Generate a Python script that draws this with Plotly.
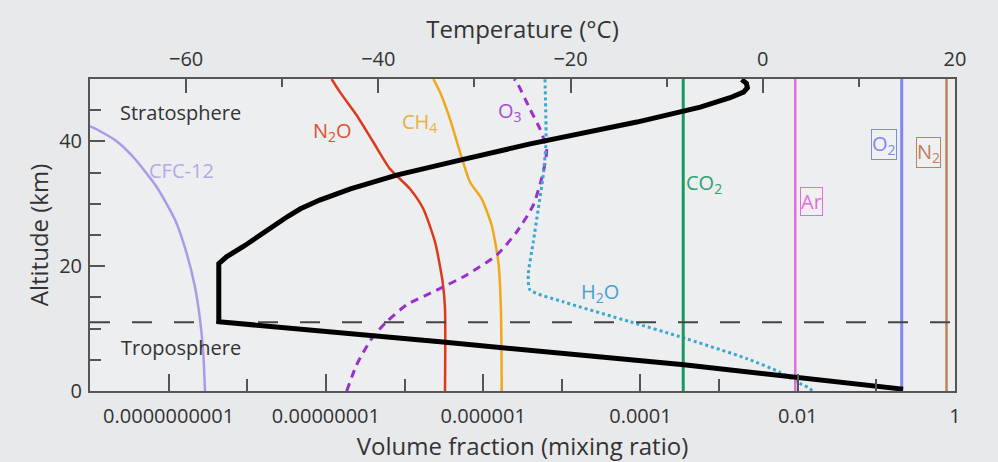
import plotly.graph_objects as go

# altitude (km) and temperature (deg C) of the black profile
alt_temp = [0.3, 4.2, 7.8, 11.1, 20.4, 21.5, 23.2, 25.0, 26.6, 28.0, 29.2, 30.6, 32.4, 34.6, 37.0, 39.6, 43.1, 45.5, 47.0, 47.9, 48.6, 49.3, 49.9]
temp_c = [14.6, -8.2, -33.0, -56.6, -56.6, -55.8, -54.0, -52.3, -50.9, -49.4, -48.1, -46.1, -42.9, -38.1, -31.5, -24.2, -13.1, -6.5, -3.4, -2.0, -1.6, -1.7, -2.2]

# volume fractions vs altitude
alt_cfc = [0, 6, 11.4, 16.7, 22.0, 27.4, 32.7, 37.5, 40.0, 41.3, 42.2, 42.8]
cfc12 = [2.90e-10, 2.76e-10, 2.51e-10, 2.16e-10, 1.70e-10, 1.21e-10, 7.05e-11, 3.55e-11, 2.2e-11, 1.5e-11, 1.1e-11, 8.0e-12]

alt_n2o = [0, 13.2, 17.5, 23.9, 29.2, 32.4, 35.6, 39.9, 44.2, 47.9, 50]
n2o = [3.27e-7, 3.27e-7, 3.05e-7, 2.44e-7, 1.73e-7, 1.17e-7, 6.53e-8, 4.00e-8, 2.46e-8, 1.51e-8, 1.18e-8]

alt_ch4 = [0, 13.2, 20.7, 26.6, 30.8, 33.5, 38.3, 43.6, 47.9, 50]
ch4 = [1.72e-6, 1.68e-6, 1.56e-6, 1.28e-6, 9.57e-7, 6.79e-7, 5.07e-7, 3.78e-7, 2.82e-7, 2.32e-7]

alt_o3 = [0, 4.2, 8.4, 11.1, 13.8, 15.9, 18.6, 21.8, 25.5, 29.8, 35.1, 38.8, 42.0, 45.2, 49.5, 50]
o3 = [1.84e-8, 2.46e-8, 3.82e-8, 5.93e-8, 1.06e-7, 2.32e-7, 6.17e-7, 1.49e-6, 2.67e-6, 4.34e-6, 5.81e-6, 6.41e-6, 5.27e-6, 3.93e-6, 2.67e-6, 2.47e-6]

alt_h2o = [0, 0.4, 1.2, 3.0, 5.2, 8.7, 11.1, 14.3, 16.2, 18.6, 23.9, 29.2, 34.6, 39.9, 50]
h2o = [0.0152, 0.0143, 0.0107, 0.00594, 0.00224, 3.18e-4, 7.36e-5, 1.04e-5, 3.94e-6, 3.74e-6, 4.34e-6, 5.02e-6, 5.81e-6, 6.29e-6, 6.11e-6]

# well mixed gases
co2, ar, o2, n2 = 3.5e-4, 9.3e-3, 0.21, 0.78
tropopause_km = 11

font = "Open Sans"
axis_col = "#555555"

fig = go.Figure()

def species(x, y, color, name, dash="solid", width=2.5):
    fig.add_trace(go.Scatter(x=x, y=y, mode="lines", name=name,
                             line=dict(color=color, width=width, dash=dash, shape="spline", smoothing=0.6),
                             xaxis="x", yaxis="y", showlegend=False))

species(cfc12, alt_cfc, "#a99be8", "CFC-12")
species(n2o, alt_n2o, "#dd3a1a", "N2O")
species(ch4, alt_ch4, "#f0a818", "CH4")
species(o3, alt_o3, "#9a2fd0", "O3", dash="8px,6px", width=3)
species(h2o, alt_h2o, "#3aa8d0", "H2O", dash="dot", width=3)
species([co2, co2], [0, 50], "#1a9a60", "CO2", width=3)
species([ar, ar], [0, 50], "#e070d8", "Ar")
species([o2, o2], [0, 50], "#8088f0", "O2", width=3)
species([n2, n2], [0, 50], "#c0805a", "N2")

# tropopause
fig.add_trace(go.Scatter(x=[1e-11, 1], y=[tropopause_km, tropopause_km], mode="lines",
                         line=dict(color="#444444", width=2, dash="20px,22px"),
                         xaxis="x", yaxis="y", showlegend=False))

# temperature profile
fig.add_trace(go.Scatter(x=temp_c, y=alt_temp, mode="lines", name="Temperature",
                         line=dict(color="black", width=5),
                         xaxis="x2", yaxis="y", showlegend=False))

labels = [
    ("Stratosphere", -9.843, 44.6, "#333333", None),
    ("Troposphere", -9.843, 6.9, "#333333", None),
    ("CFC-12", -9.837, 35.4, "#b4aae6", None),
    ("N<sub>2</sub>O", -7.91, 41.6, "#e05030", None),
    ("CH<sub>4</sub>", -6.804, 43.1, "#e8b040", None),
    ("O<sub>3</sub>", -5.659, 44.8, "#a050d0", None),
    ("CO<sub>2</sub>", -3.192, 33.3, "#30a070", None),
    ("H<sub>2</sub>O", -4.515, 15.8, "#4aa0d0", None),
    ("Ar", -1.825, 30.3, "#e070d8", "#e070d8"),
    ("O<sub>2</sub>", -0.903, 39.5, "#8088f0", "#8088f0"),
    ("N<sub>2</sub>", -0.331, 38.2, "#c0805a", "#c0805a"),
]
for text, lx, ly, col, border in labels:
    ann = dict(text=text, x=lx, y=ly, xref="x", yref="y", showarrow=False,
               font=dict(family=font, size=20, color=col), xanchor="center", yanchor="middle")
    if border:
        ann.update(bordercolor=border, borderwidth=1, borderpad=0, bgcolor="#eef0f2")
    fig.add_annotation(**ann)

fig.update_layout(
    width=998, height=462,
    margin=dict(l=90, r=43, t=79, b=71, autoexpand=False),
    paper_bgcolor="#e7e9eb",
    plot_bgcolor="#eceef0",
    font=dict(family=font, size=20, color="#333333"),
    xaxis=dict(
        type="log", range=[-11, 0], automargin=False,
        tickvals=[1e-10, 1e-8, 1e-6, 1e-4, 1e-2, 1],
        ticktext=["0.0000000001", "0.00000001", "0.000001", "0.0001", "0.01", "1"],
        ticks="inside", ticklen=17, tickwidth=2, tickcolor=axis_col,
        minor=dict(tickvals=[1e-9, 1e-7, 1e-5, 1e-3, 1e-1], ticks="inside", ticklen=12,
                   tickwidth=2, tickcolor=axis_col),
        showline=True, linecolor=axis_col, linewidth=2, showgrid=False, zeroline=False,
        ticklabelstandoff=6,
        title=dict(text="Volume fraction (mixing ratio)", standoff=20),
    ),
    xaxis2=dict(
        overlaying="x", side="top", anchor="y", range=[-70, 20], automargin=False,
        tickvals=[-60, -40, -20, 0, 20],
        ticktext=["\u221260", "\u221240", "\u221220", "0", "20"],
        ticks="inside", ticklen=14, tickwidth=2, tickcolor=axis_col,
        minor=dict(tickvals=[-50, -30, -10, 10], ticks="inside", ticklen=8,
                   tickwidth=2, tickcolor=axis_col),
        showline=True, linecolor=axis_col, linewidth=2, showgrid=False, zeroline=False,
        ticklabelstandoff=3,
        title=dict(text="Temperature (\u00b0C)", standoff=0),
    ),
    yaxis=dict(
        range=[0, 50], automargin=False,
        tickvals=[0, 20, 40],
        ticktext=["0", "20", "40"],
        ticks="inside", ticklen=15, tickwidth=2, tickcolor=axis_col,
        minor=dict(tickvals=[5, 10, 15, 25, 30, 35, 45], ticks="inside", ticklen=11,
                   tickwidth=2, tickcolor=axis_col),
        showline=True, linecolor=axis_col, linewidth=2, mirror=True,
        showgrid=False, zeroline=False,
        ticklabelstandoff=2,
        title=dict(text="Altitude (km)", standoff=4),
    ),
)

fig.write_html("out.html", config={"displayModeBar": False},
               post_script="document.body.style.margin='0';")
